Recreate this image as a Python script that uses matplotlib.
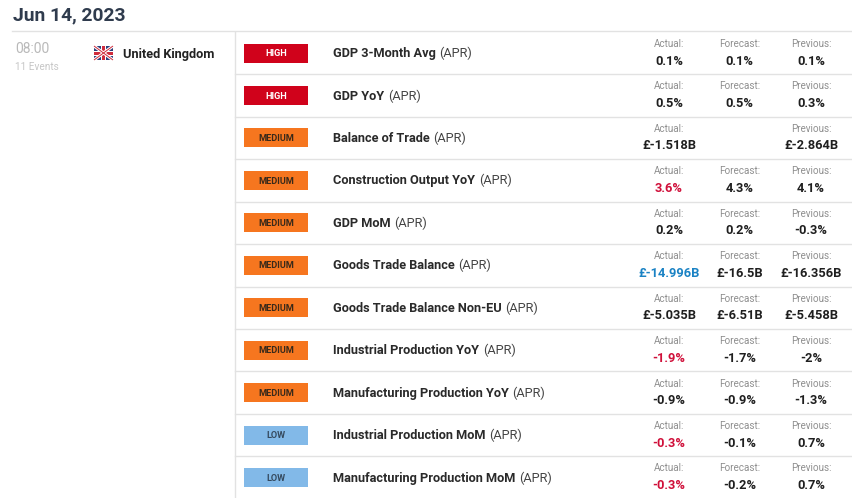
#!/usr/bin/env python3
"""Economic calendar table for the UK, 14 Jun 2023."""
import matplotlib
matplotlib.use("Agg")
import matplotlib.pyplot as plt
from matplotlib.patches import Rectangle

plt.rcParams['font.family'] = ['Roboto', 'DejaVu Sans']

date_label = "Jun 14, 2023"
time_label = "08:00"
events_label = "11 Events"
country = "United Kingdom"

impacts = ["HIGH", "HIGH", "MEDIUM", "MEDIUM", "MEDIUM", "MEDIUM", "MEDIUM",
           "MEDIUM", "MEDIUM", "LOW", "LOW"]
names = ["GDP 3-Month Avg", "GDP YoY", "Balance of Trade", "Construction Output YoY",
         "GDP MoM", "Goods Trade Balance", "Goods Trade Balance Non-EU",
         "Industrial Production YoY", "Manufacturing Production YoY",
         "Industrial Production MoM", "Manufacturing Production MoM"]
actual = ["0.1%", "0.5%", "£-1.518B", "3.6%", "0.2%", "£-14.996B", "£-5.035B",
          "-1.9%", "-0.9%", "-0.3%", "-0.3%"]
forecast = ["0.1%", "0.5%", "", "4.3%", "0.2%", "£-16.5B", "£-6.51B",
            "-1.7%", "-0.9%", "-0.1%", "-0.2%"]
previous = ["0.1%", "0.3%", "£-2.864B", "4.1%", "-0.3%", "£-16.356B", "£-5.458B",
            "-2%", "-1.3%", "0.7%", "0.7%"]
actual_state = ["", "", "", "bad", "", "good", "", "bad", "", "bad", "bad"]

IMPACT_COLORS = {"HIGH": "#d0021b", "MEDIUM": "#f6761f", "LOW": "#82b9e8"}
IMPACT_TEXT = {"HIGH": "#ffffff", "MEDIUM": "#3a2a1a", "LOW": "#34495e"}
STATE_COLORS = {"": "#1f1f1f", "bad": "#d0103a", "good": "#1a82c4"}
GRID = "#e2e2e2"

ROW_TOP = 31.8
ROW_H = 42.45

fig = plt.figure(figsize=(8.52, 4.98), dpi=100)
ax = fig.add_axes([0, 0, 1, 1])
ax.set_xlim(0, 852)
ax.set_ylim(498, 0)
ax.axis("off")

# header
ax.text(13, 20.8, date_label, fontsize=13.9, fontweight="bold", color="#2f3b4d", va="baseline")
ax.plot([12, 852], [31.3, 31.3], color=GRID, lw=1)
ax.plot([234.5, 234.5], [32, 498], color=GRID, lw=1)

# left column
ax.text(15, 53.2, time_label, fontsize=10, color="#b9b9b9", va="baseline")
ax.text(15, 70, events_label, fontsize=7.2, color="#c6c6c6", va="baseline")
ax.text(123, 57.8, country, fontsize=9.2, fontweight="bold", color="#222222", va="baseline")

# flag
ax.add_patch(Rectangle((94, 46), 19, 14, fc="#2d3f7c", ec="none"))
ax.plot([94, 113], [46, 60], color="white", lw=2.2, solid_capstyle="butt")
ax.plot([94, 113], [60, 46], color="white", lw=2.2, solid_capstyle="butt")
ax.plot([94, 113], [46, 60], color="#cf2b3c", lw=0.7, solid_capstyle="butt")
ax.plot([94, 113], [60, 46], color="#cf2b3c", lw=0.7, solid_capstyle="butt")
ax.add_patch(Rectangle((94, 50.5), 19, 5, fc="white", ec="none"))
ax.add_patch(Rectangle((101, 46), 5, 14, fc="white", ec="none"))
ax.add_patch(Rectangle((94, 51.5), 19, 3, fc="#cf2b3c", ec="none"))
ax.add_patch(Rectangle((102, 46), 3, 14, fc="#cf2b3c", ec="none"))

renderer = fig.canvas.get_renderer()

for i, name in enumerate(names):
    y = ROW_TOP + ROW_H * (i + 0.5)
    if i < len(names) - 1:
        bottom = ROW_TOP + ROW_H * (i + 1)
        ax.plot([235, 852], [bottom, bottom], color=GRID, lw=1)

    ax.add_patch(Rectangle((244, y - 9.5), 64, 19, fc=IMPACT_COLORS[impacts[i]], ec="none"))
    ax.text(276, y + 3.2, impacts[i], fontsize=6.6, fontweight="bold",
            color=IMPACT_TEXT[impacts[i]], ha="center", va="baseline")

    t = ax.text(333.2, y + 4.1, name, fontsize=9.2, fontweight="bold", color="#2a2a2a", va="baseline")
    x1 = t.get_window_extent(renderer).x1
    ax.text(x1 + 3.5, y + 4.1, "(APR)", fontsize=9.2, color="#444444", va="baseline")

    # value columns
    for cx, label, val, col in [(669, "Actual:", actual[i], STATE_COLORS[actual_state[i]]),
                                (739.5, "Forecast:", forecast[i], STATE_COLORS[""]),
                                (811, "Previous:", previous[i], STATE_COLORS[""])]:
        if val:
            ax.text(cx, y - 6.1, label, fontsize=7.1, color="#8f8f8f", ha="center", va="baseline")
            ax.text(cx, y + 11.5, val, fontsize=9.3, fontweight="bold", color=col, ha="center", va="baseline")

fig.savefig("out.png", dpi=100)
